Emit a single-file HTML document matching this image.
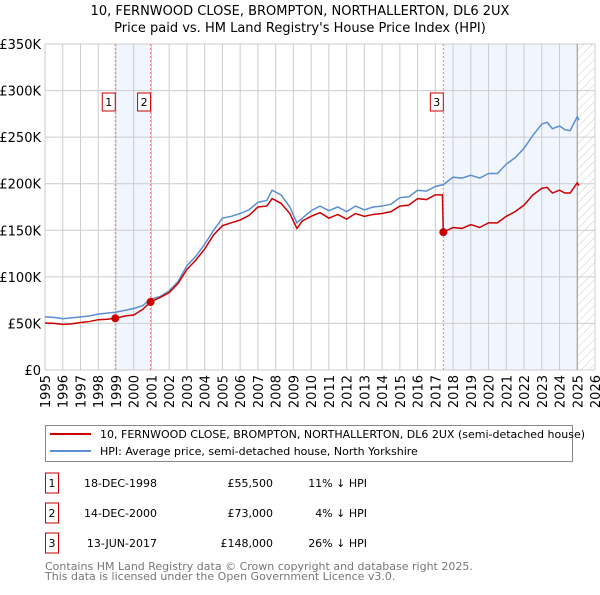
<!DOCTYPE html>
<html><head><meta charset="utf-8"><style>
body{margin:0;background:#fff;font-family:"Liberation Sans","DejaVu Sans",sans-serif;}
svg text{font-family:"DejaVu Sans","Liberation Sans",sans-serif;}
</style></head><body>
<svg id="c" width="600" height="590" xmlns="http://www.w3.org/2000/svg">
<defs><pattern id="hatch" width="6" height="6" patternUnits="userSpaceOnUse" patternTransform="rotate(45)"><line x1="0" y1="0" x2="0" y2="6" stroke="#ccc" stroke-width="1"/></pattern></defs>
<text x="300" y="15" text-anchor="middle" font-size="13">10, FERNWOOD CLOSE, BROMPTON, NORTHALLERTON, DL6 2UX</text>
<text x="300" y="32" text-anchor="middle" font-size="13">Price paid vs. HM Land Registry's House Price Index (HPI)</text>
<g id="plot"></g>
<rect x="45.5" y="425.5" width="527" height="36" fill="#fff" stroke="#888"/>
<line x1="50" y1="434" x2="91" y2="434" stroke="#cc0000" stroke-width="2"/>
<text x="100" y="438" font-size="11">10, FERNWOOD CLOSE, BROMPTON, NORTHALLERTON, DL6 2UX (semi-detached house)</text>
<line x1="50" y1="451" x2="91" y2="451" stroke="#5b8fd4" stroke-width="2"/>
<text x="100" y="455" font-size="11">HPI: Average price, semi-detached house, North Yorkshire</text>
<g id="table" font-size="11"></g>
<text x="45" y="570" font-size="11" fill="#777">Contains HM Land Registry data © Crown copyright and database right 2025.</text>
<text x="45" y="580" font-size="11" fill="#777">This data is licensed under the Open Government Licence v3.0.</text>
</svg>
<script>
const hpiYears=[1995,1995.5,1996,1996.5,1997,1997.5,1998,1998.5,1998.96,1999.5,2000,2000.5,2000.95,2001.5,2002,2002.5,2003,2003.5,2004,2004.5,2005,2005.5,2006,2006.5,2007,2007.5,2007.8,2008.3,2008.8,2009.2,2009.5,2010,2010.5,2011,2011.5,2012,2012.5,2013,2013.5,2014,2014.5,2015,2015.5,2016,2016.5,2017,2017.45,2018,2018.5,2019,2019.5,2020,2020.5,2021,2021.5,2022,2022.5,2023,2023.3,2023.6,2024,2024.3,2024.6,2025,2025.1];
const hpiValues=[57,56.5,55,56,57,58,60,61,62,64,66,69,76,79,85,95,112,122,135,150,163,165,168,172,180,182,193,188,175,158,163,171,176,171,175,170,176,172,175,176,178,185,186,193,192,197,199,207,206,209,206,211,211,221,228,238,252,264,266,259,262,258,257,272,268];
const priceYears=[1995,1995.5,1996,1996.5,1997,1997.5,1998,1998.5,1998.96,1999.5,2000,2000.5,2000.95,2001.5,2002,2002.5,2003,2003.5,2004,2004.5,2005,2005.5,2006,2006.5,2007,2007.5,2007.8,2008.3,2008.8,2009.2,2009.5,2010,2010.5,2011,2011.5,2012,2012.5,2013,2013.5,2014,2014.5,2015,2015.5,2016,2016.5,2017,2017.4,2017.45,2018,2018.5,2019,2019.5,2020,2020.5,2021,2021.5,2022,2022.5,2023,2023.3,2023.6,2024,2024.3,2024.6,2025,2025.1];
const priceValues=[50.5,50,49,49.5,51,52,54,54.5,55.5,58,59,65,73,78,83,93,108,118,130,145,155,158,161,166,175,176,184,179,168,152,160,165,169,163,167,162,168,165,167,168,170,176,177,184,183,188,188,148,153,152,156,153,158,158,165,170,177,188,195,196,190,193,190,190,201,198];
const saleYears=[1998.96,2000.95,2017.45];
const salePrices=[55.5,73,148];
const saleLabels=["1","2","3"];
const saleDates=["18-DEC-1998","14-DEC-2000","13-JUN-2017"];
const salePriceText=["£55,500","£73,000","£148,000"];
const salePctText=["11% ↓ HPI","4% ↓ HPI","26% ↓ HPI"];
const yTicks=[0,50,100,150,200,250,300,350];
const yTickLabels=["£0","£50K","£100K","£150K","£200K","£250K","£300K","£350K"];
const xTicks=[1995,1996,1997,1998,1999,2000,2001,2002,2003,2004,2005,2006,2007,2008,2009,2010,2011,2012,2013,2014,2015,2016,2017,2018,2019,2020,2021,2022,2023,2024,2025,2026];

const NS="http://www.w3.org/2000/svg";
const X0=45,X1=595,Y0=370,Y1=44;
const xs=y=>X0+(y-1995)/31*(X1-X0);
const ys=v=>Y0-v/350*(Y0-Y1);
const g=document.getElementById('plot');
function mk(tag,attrs,parent){const e=document.createElementNS(NS,tag);for(const k in attrs)e.setAttribute(k,attrs[k]);(parent||g).appendChild(e);return e;}
let s=mk('rect',{x:xs(saleYears[0]),y:Y1,width:xs(saleYears[1])-xs(saleYears[0]),height:Y0-Y1,fill:'#eef3fc',opacity:0.8});


s=mk('rect',{x:xs(saleYears[2]),y:Y1,width:xs(2025)-xs(saleYears[2]),height:Y0-Y1,fill:'#eef3fc',opacity:0.8});


s=mk('rect',{x:xs(2025),y:Y1,width:X1-xs(2025),height:Y0-Y1,fill:'url(#hatch)'});


yTicks.forEach((v,i)=>{
 const l=mk('line',{x1:X0,x2:X1,y1:ys(v),y2:ys(v),stroke:'#ccc'});
 
 
 const t=mk('text',{x:X0-4,y:ys(v)+5,'text-anchor':'end','font-size':13});
 t.textContent=yTickLabels[i];
 
 
});
xTicks.forEach(y=>{
 const l=mk('line',{x1:xs(y),x2:xs(y),y1:Y1,y2:Y0,stroke:'#ccc'});
 
 
 const t=mk('text',{x:0,y:0,'text-anchor':'end','font-size':13,transform:`translate(${xs(y)+5},${Y0+5}) rotate(-90)`});
 t.textContent=y;
 
 
});
const e25=mk('line',{x1:xs(2025),x2:xs(2025),y1:Y1,y2:Y0,stroke:'#999'});


saleYears.forEach((y,i)=>{
 const l=mk('line',{x1:xs(y),x2:xs(y),y1:Y1,y2:Y0,stroke:'#f08080','stroke-dasharray':'2,2'});
 
 
 const b=mk('rect',{x:xs(y)-13,y:93,width:13,height:18,fill:'#fff',stroke:'#cc0000'});
 
 
 const t=mk('text',{x:xs(y)-6.5,y:106,'text-anchor':'middle','font-size':11});
 t.textContent=saleLabels[i];
 
 
});
const hp=mk('polyline',{points:hpiYears.map((y,i)=>xs(y)+','+ys(hpiValues[i])).join(' '),fill:'none',stroke:'#5b8fd4','stroke-width':1.5});


const pp=mk('polyline',{points:priceYears.map((y,i)=>xs(y)+','+ys(priceValues[i])).join(' '),fill:'none',stroke:'#cc0000','stroke-width':1.5});


saleYears.forEach((y,i)=>{
 const c=mk('circle',{cx:xs(y),cy:ys(salePrices[i]),r:4,fill:'#cc0000'});
 
 
});
const tb=document.getElementById('table');
const rowsY=[483,513,543];
saleLabels.forEach((lab,i)=>{
 const y=rowsY[i];
 const b=mk('rect',{x:45.5,y:y-10,width:13,height:20,fill:'#fff',stroke:'#cc0000'},tb);
 
 
 const cells=[[52,lab,'middle'],[157,saleDates[i],'end'],[273,salePriceText[i],'end'],[367,salePctText[i],'end']];
 cells.forEach(([x,txt,a],j)=>{
  const t=mk('text',{x:x,y:y+4,'text-anchor':a},tb);
  t.textContent=txt;
  
  
 });
});
</script>
</body></html>
